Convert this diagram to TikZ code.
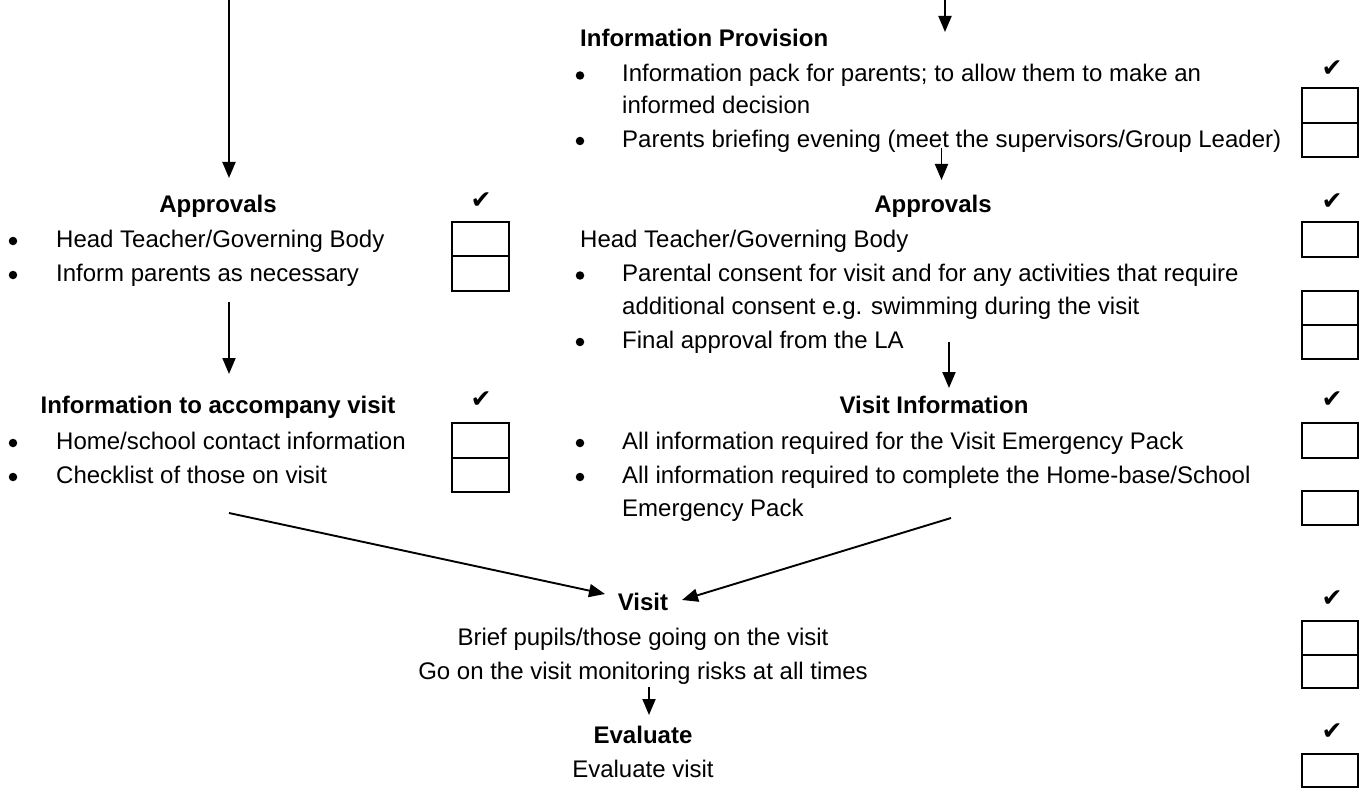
\documentclass[tikz,border=0pt]{standalone}
\usepackage{fontspec}
\setmainfont{Liberation Sans}
\newfontfamily\symfont{DejaVu Sans}
\usetikzlibrary{arrows.meta}
\begin{document}
\begin{tikzpicture}[x=1pt,y=-1pt,
  txt/.style={inner sep=0pt, anchor=base west, font=\fontsize{24}{28}\selectfont},
  ttlw/.style={inner sep=0pt, anchor=base west, font=\fontsize{24}{28}\selectfont\bfseries},
  ttl/.style={inner sep=0pt, anchor=base, font=\fontsize{24}{28}\selectfont\bfseries},
  ctr/.style={inner sep=0pt, anchor=base, font=\fontsize{24}{28}\selectfont},
  bul/.style={circle, fill=black, inner sep=0pt, minimum size=8.5pt},
  tick/.style={inner sep=0pt, font=\symfont\fontsize{25}{26}\selectfont},
  cbox/.style={draw, line width=2pt},
  arr/.style={line width=1.9pt, -{Triangle[length=16pt,width=13pt]}}]
\useasboundingbox (0,0) rectangle (1360,789);

% ---------- left column ----------
\node[ttl] (appL) at (218,212) {Approvals};
\node[bul] (bL1) at (13,241) {};
\node[txt] (tL1) at (56,247) {Head Teacher/Governing Body};
\node[bul] (bL2) at (13,275) {};
\node[txt] (tL2) at (56,281) {Inform parents as necessary};

\node[ttl] (infL) at (218,413) {Information to accompany visit};
\node[bul] (bL3) at (13,443) {};
\node[txt] (tL3) at (56,449) {Home/school contact information};
\node[bul] (bL4) at (13,477) {};
\node[txt] (tL4) at (56,483) {Checklist of those on visit};

% ---------- right column ----------
\node[ttlw] (ip) at (580,47) {Information Provision};
\node[bul] (bR1) at (580,75.5) {};
\node[txt] (tR1) at (622,81.5) {Information pack for parents; to allow them to make an};
\node[txt] (tR1b) at (622,114) {informed decision};
\node[bul] (bR2) at (580,141) {};
\node[txt] (tR2) at (622,147) {Parents briefing evening (meet the supervisors/Group Leader)};

\node[ttl] (appR) at (933,212) {Approvals};
\node[txt] (tR3) at (580,247) {Head Teacher/Governing Body};
\node[bul] (bR4) at (580,275.5) {};
\node[txt] (tR4) at (622,281.5) {Parental consent for visit and for any activities that require};
\node[txt] (tR4b) at (622,314) {additional consent e.g. swimming during the visit};
\node[bul] (bR5) at (580,342) {};
\node[txt] (tR5) at (622,348) {Final approval from the LA};

\node[ttl] (vinf) at (934,413) {Visit Information};
\node[bul] (bR6) at (580,443) {};
\node[txt] (tR6) at (622,449) {All information required for the Visit Emergency Pack};
\node[bul] (bR7) at (580,477) {};
\node[txt] (tR7) at (622,483) {All information required to complete the Home-base/School};
\node[txt] (tR7b) at (622,516) {Emergency Pack};

% ---------- centre ----------
\node[ttl] (visit) at (643,610) {Visit};
\node[ctr] (brief) at (643,645) {Brief pupils/those going on the visit};
\node[ctr] (goon) at (643,679) {Go on the visit monitoring risks at all times};
\node[ttl] (eval) at (643,743) {Evaluate};
\node[ctr] (evalv) at (643,777) {Evaluate visit};

% ---------- ticks ----------
\node[tick] (k1) at (481,201) {✔};
\node[tick] (k2) at (481,400) {✔};
\node[tick] (k3) at (1332,69) {✔};
\node[tick] (k4) at (1332,202) {✔};
\node[tick] (k5) at (1332,400) {✔};
\node[tick] (k6) at (1332,599) {✔};
\node[tick] (k7) at (1332,732) {✔};

% ---------- check boxes ----------
\draw[cbox] (452,222) rectangle (509,256);
\draw[cbox] (452,256) rectangle (509,291);
\draw[cbox] (452,423) rectangle (509,458);
\draw[cbox] (452,458) rectangle (509,492);
\draw[cbox] (1302,88) rectangle (1358,123);
\draw[cbox] (1302,123) rectangle (1358,157);
\draw[cbox] (1302,222) rectangle (1358,257);
\draw[cbox] (1302,291) rectangle (1358,325);
\draw[cbox] (1302,325) rectangle (1358,359);
\draw[cbox] (1302,423) rectangle (1358,458);
\draw[cbox] (1302,491) rectangle (1358,525);
\draw[cbox] (1302,621) rectangle (1358,655);
\draw[cbox] (1302,655) rectangle (1358,688);
\draw[cbox] (1302,754) rectangle (1358,787);

% ---------- arrows ----------
\coordinate (a1s) at (229,0);      \coordinate (a1e) at (229,178);
\coordinate (a2s) at (229,302);    \coordinate (a2e) at (229,374);
\coordinate (a3s) at (229,513);    \coordinate (a3e) at (605,594);
\coordinate (a4s) at (951,518);    \coordinate (a4e) at (682,600);
\coordinate (a5s) at (945,0);      \coordinate (a5e) at (945,32);
\coordinate (a6s) at (941.5,148);  \coordinate (a6e) at (941.5,180);
\coordinate (a7s) at (949,342);    \coordinate (a7e) at (949,388);
\coordinate (a8s) at (649,687);    \coordinate (a8e) at (649,715);
\draw[arr] (a1s) -- (a1e);
\draw[arr] (a2s) -- (a2e);
\draw[arr] (a3s) -- (a3e);
\draw[arr] (a4s) -- (a4e);
\draw[arr] (a5s) -- (a5e);
\draw[arr] (a6s) -- (a6e);
\draw[arr] (a7s) -- (a7e);
\draw[arr] (a8s) -- (a8e);
\end{tikzpicture}
\end{document}
